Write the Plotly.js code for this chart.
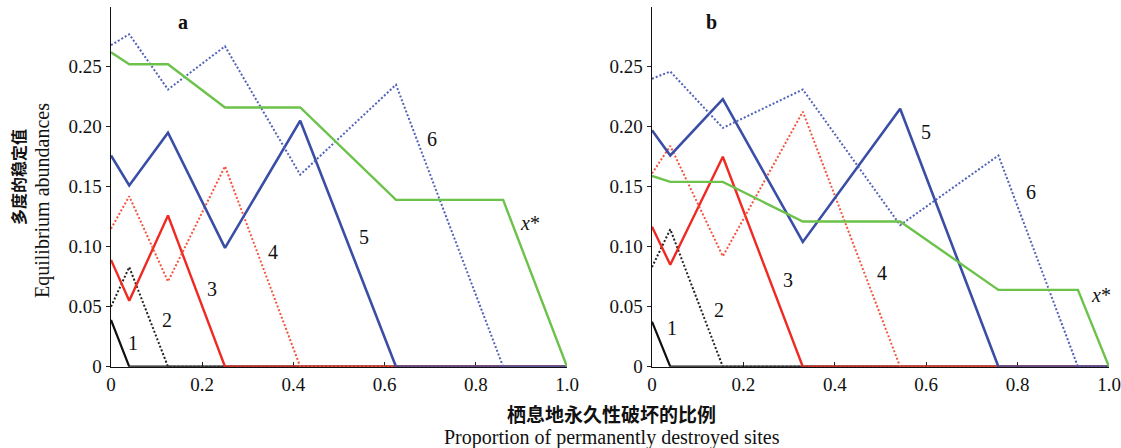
<!DOCTYPE html>
<html><head><meta charset="utf-8">
<script src="https://cdn.plot.ly/plotly-3.0.1.min.js"></script>
<style>html,body{margin:0;padding:0;background:#fff}#chart{width:1121px;height:448px}</style>
</head><body><div id="chart"></div>
<script>
// Panel a data
const xA1 = [0, 0.04, 1];                                   const yA1 = [0.039, 0, 0];
const xA2 = [0, 0.04, 0.125, 1];                            const yA2 = [0.05, 0.083, 0, 0];
const xA3 = [0, 0.04, 0.125, 0.25, 1];                      const yA3 = [0.089, 0.055, 0.126, 0, 0];
const xA4 = [0, 0.04, 0.125, 0.25, 0.415, 1];               const yA4 = [0.115, 0.142, 0.071, 0.167, 0, 0];
const xA5 = [0, 0.04, 0.125, 0.25, 0.415, 0.625, 1];        const yA5 = [0.176, 0.151, 0.195, 0.099, 0.205, 0, 0];
const xA6 = [0, 0.04, 0.125, 0.25, 0.415, 0.625, 0.86, 1];  const yA6 = [0.268, 0.277, 0.231, 0.267, 0.16, 0.235, 0, 0];
const xAx = [0, 0.04, 0.125, 0.25, 0.415, 0.625, 0.86, 1];  const yAx = [0.262, 0.252, 0.252, 0.216, 0.216, 0.139, 0.139, 0];
// Panel b data
const xB1 = [0, 0.04, 1];                                   const yB1 = [0.0375, 0, 0];
const xB2 = [0, 0.04, 0.155, 1];                            const yB2 = [0.083, 0.1145, 0, 0];
const xB3 = [0, 0.04, 0.155, 0.33, 1];                      const yB3 = [0.1167, 0.085, 0.175, 0, 0];
const xB4 = [0, 0.04, 0.155, 0.33, 0.543, 1];               const yB4 = [0.161, 0.184, 0.092, 0.2125, 0, 0];
const xB5 = [0, 0.04, 0.155, 0.33, 0.543, 0.758, 1];        const yB5 = [0.197, 0.176, 0.223, 0.104, 0.215, 0, 0];
const xB6 = [0, 0.04, 0.155, 0.33, 0.543, 0.758, 0.932, 1]; const yB6 = [0.240, 0.246, 0.199, 0.231, 0.118, 0.176, 0, 0];
const xBx = [0, 0.04, 0.155, 0.33, 0.543, 0.758, 0.932, 1]; const yBx = [0.159, 0.154, 0.154, 0.121, 0.121, 0.064, 0.064, 0];

const xTickVals = [0, 0.2, 0.4, 0.6, 0.8, 1.0];
const xTickText = ['0', '0.2', '0.4', '0.6', '0.8', '1.0'];
const yTickVals = [0, 0.05, 0.10, 0.15, 0.20, 0.25];
const yTickText = ['0', '0.05', '0.10', '0.15', '0.20', '0.25'];

const labelsA = ['a', '1', '2', '3', '4', '5', '6', 'x*'];
const labelAX = [0.158, 0.048, 0.123, 0.221, 0.355, 0.555, 0.704, 0.919];
const labelAY = [0.287, 0.020, 0.039, 0.065, 0.0956, 0.108, 0.19, 0.12];
const labelsB = ['b', '1', '2', '3', '4', '5', '6', 'x*'];
const labelBX = [0.131, 0.044, 0.146, 0.297, 0.504, 0.60, 0.83, 0.983];
const labelBY = [0.287, 0.032, 0.047, 0.072, 0.078, 0.1956, 0.1456, 0.06];

const xTitleZh = '栖息地永久性破坏的比例';
const xTitleEn = 'Proportion of permanently destroyed sites';
const yTitleZh = '多度的稳定值';
const yTitleEn = 'Equilibrium abundances';

const serif = 'Liberation Serif, Times New Roman, serif';
const cjk = 'Noto Sans CJK SC, sans-serif';

const styles = [
  {color: '#111111', width: 2.2, dash: 'solid'},
  {color: '#222222', width: 2.0, dash: '2px,2px'},
  {color: '#ee2a22', width: 2.4, dash: 'solid'},
  {color: '#f2563f', width: 2.0, dash: '2px,2px'},
  {color: '#3a4ea6', width: 2.6, dash: 'solid'},
  {color: '#5262b8', width: 2.0, dash: '2px,2px'},
  {color: '#6cc24a', width: 2.4, dash: 'solid'}
];

const seriesA = [[xA1,yA1],[xA2,yA2],[xA3,yA3],[xA4,yA4],[xA5,yA5],[xA6,yA6],[xAx,yAx]];
const seriesB = [[xB1,yB1],[xB2,yB2],[xB3,yB3],[xB4,yB4],[xB5,yB5],[xB6,yB6],[xBx,yBx]];

const traces = [];
seriesA.forEach((s, i) => traces.push({x: s[0], y: s[1], xaxis: 'x', yaxis: 'y', mode: 'lines',
  line: {color: styles[i].color, width: styles[i].width, dash: styles[i].dash}, cliponaxis: false, hoverinfo: 'skip'}));
seriesB.forEach((s, i) => traces.push({x: s[0], y: s[1], xaxis: 'x2', yaxis: 'y2', mode: 'lines',
  line: {color: styles[i].color, width: styles[i].width, dash: styles[i].dash}, cliponaxis: false, hoverinfo: 'skip'}));

const ann = [];
function addLabels(labels, xs, ys, xref, yref) {
  labels.forEach((t, i) => {
    const isPanel = (t === 'a' || t === 'b');
    const txt = t === 'x*' ? '<i>x</i>*' : (isPanel ? '<b>' + t + '</b>' : t);
    ann.push({text: txt, x: xs[i], y: ys[i], xref: xref, yref: yref, showarrow: false,
      font: {family: serif, size: 20, color: '#111'}, xanchor: 'center', yanchor: 'middle'});
  });
}
addLabels(labelsA, labelAX, labelAY, 'x', 'y');
addLabels(labelsB, labelBX, labelBY, 'x2', 'y2');

ann.push({text: '<b>' + xTitleZh + '</b>', xref: 'paper', yref: 'paper', x: 611/1121, y: 35/448,
  showarrow: false, xanchor: 'center', yanchor: 'middle', font: {family: cjk, size: 19, color: '#111'}});
ann.push({text: xTitleEn, xref: 'paper', yref: 'paper', x: 612/1121, y: 11/448,
  showarrow: false, xanchor: 'center', yanchor: 'middle', font: {family: serif, size: 20, color: '#111'}});
ann.push({text: '<b>' + yTitleZh + '</b>', xref: 'paper', yref: 'paper', x: 18/1121, y: (448-177)/448,
  showarrow: false, xanchor: 'center', yanchor: 'middle', textangle: -90, font: {family: cjk, size: 16, color: '#111'}});
ann.push({text: yTitleEn, xref: 'paper', yref: 'paper', x: 42/1121, y: (448-201)/448,
  showarrow: false, xanchor: 'center', yanchor: 'middle', textangle: -90, font: {family: serif, size: 20, color: '#111'}});

const xAxisBase = {range: [0, 1], tickmode: 'array', tickvals: xTickVals, ticktext: xTickText,
  ticks: 'inside', ticklen: 5, tickwidth: 1.2, tickcolor: '#222', showline: true, linecolor: '#111', linewidth: 1.5,
  showgrid: false, zeroline: false, layer: 'below traces', ticklabeloverflow: 'allow',
  tickfont: {family: serif, size: 19, color: '#111'}};
const yAxisBase = {range: [0, 0.3], tickmode: 'array', tickvals: yTickVals, ticktext: yTickText,
  ticks: 'outside', ticklen: 4, tickwidth: 1.2, tickcolor: '#222', showline: true, linecolor: '#111', linewidth: 1.5,
  showgrid: false, zeroline: false, layer: 'below traces', tickfont: {family: serif, size: 19, color: '#111'}, domain: [81.3/448, 441.3/448]};

const layout = {
  width: 1121, height: 448, margin: {l: 0, r: 0, t: 0, b: 0},
  paper_bgcolor: '#fff', plot_bgcolor: '#fff', showlegend: false,
  xaxis: Object.assign({}, xAxisBase, {domain: [111/1121, 567/1121], anchor: 'y'}),
  yaxis: Object.assign({}, yAxisBase, {anchor: 'x'}),
  xaxis2: Object.assign({}, xAxisBase, {domain: [652/1121, 1109/1121], anchor: 'y2'}),
  yaxis2: Object.assign({}, yAxisBase, {anchor: 'x2'}),
  annotations: ann
};

Plotly.newPlot('chart', traces, layout, {staticPlot: true, displayModeBar: false});
</script></body></html>
